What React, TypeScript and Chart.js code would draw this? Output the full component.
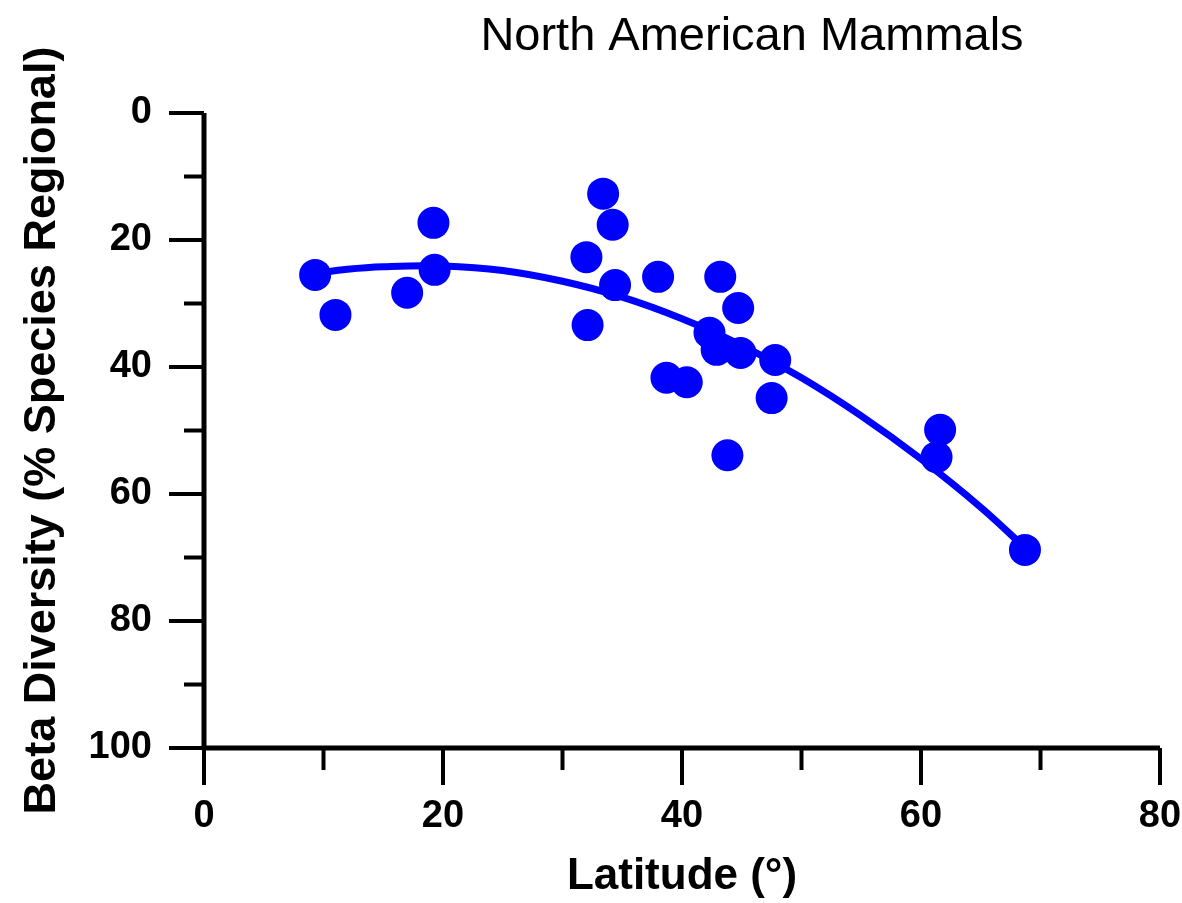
import React, { useEffect, useRef } from "react";
import { Chart, registerables } from "chart.js";

Chart.register(...registerables);

const chartTitle = "North American Mammals";
const xAxisTitle = "Latitude (°)";
const yAxisTitle = "Beta Diversity (% Species Regional)";

const latitude = [9.3, 11.0, 17.0, 19.2, 19.3, 32.0, 32.1, 33.4, 34.2, 34.4, 38.0, 38.7, 40.4, 42.3, 42.9, 43.2, 43.8, 44.7, 44.9, 47.5, 47.8, 61.3, 61.6, 68.7];
const betaDiversity = [25.5, 31.8, 28.3, 17.3, 24.7, 22.7, 33.4, 12.7, 17.6, 27.1, 25.8, 41.7, 42.4, 34.6, 37.3, 25.8, 53.9, 30.7, 37.8, 44.9, 38.9, 54.2, 49.9, 68.8];

const fitLatitude = [9.3, 12, 15, 20, 25, 30, 35, 40, 45, 50, 55, 60, 65, 69];
const fitBeta = [25.3, 24.6, 24.2, 24.1, 24.8, 26.5, 29.0, 32.4, 36.6, 41.7, 47.7, 54.5, 62.1, 69.0];

const xTickValues = [0, 10, 20, 30, 40, 50, 60, 70, 80];
const yTickValues = [0, 10, 20, 30, 40, 50, 60, 70, 80, 90, 100];

const BLUE = "#0000FF";
const SANS = "'Liberation Sans', Arial, sans-serif";

const axesPlugin = {
  id: "customAxes",
  afterDraw(chart: any) {
    const { ctx, chartArea, scales } = chart;
    const xs = scales.x;
    const ys = scales.y;
    ctx.save();
    ctx.strokeStyle = "#000";
    ctx.lineCap = "butt";
    ctx.lineWidth = 5;
    ctx.beginPath();
    ctx.moveTo(chartArea.left, chartArea.top);
    ctx.lineTo(chartArea.left, chartArea.bottom);
    ctx.moveTo(chartArea.left, chartArea.bottom);
    ctx.lineTo(chartArea.right, chartArea.bottom);
    ctx.stroke();
    ctx.lineWidth = 4;
    ctx.beginPath();
    xTickValues.forEach((v) => {
      const px = xs.getPixelForValue(v);
      const len = v % 20 === 0 ? 37 : 22;
      ctx.moveTo(px, chartArea.bottom);
      ctx.lineTo(px, chartArea.bottom + len);
    });
    yTickValues.forEach((v) => {
      const py = ys.getPixelForValue(v);
      const len = v % 20 === 0 ? 35 : 20;
      ctx.moveTo(chartArea.left - len, py);
      ctx.lineTo(chartArea.left, py);
    });
    ctx.stroke();
    ctx.fillStyle = "#000";
    ctx.font = "47px " + SANS;
    ctx.textAlign = "center";
    ctx.textBaseline = "alphabetic";
    ctx.fillText(chartTitle, 752, 50);
    ctx.restore();
  },
};

export default function App() {
  const canvasRef = useRef<HTMLCanvasElement | null>(null);

  useEffect(() => {
    const canvas = canvasRef.current;
    if (!canvas) return;
    const chart = new Chart(canvas, {
      type: "scatter",
      data: {
        datasets: [
          {
            label: "fit",
            data: fitLatitude.map((x, i) => ({ x, y: fitBeta[i] })),
            showLine: true,
            borderColor: BLUE,
            borderWidth: 7,
            pointRadius: 0,
            tension: 0.4,
            fill: false,
          },
          {
            label: "sites",
            data: latitude.map((x, i) => ({ x, y: betaDiversity[i] })),
            backgroundColor: BLUE,
            borderColor: BLUE,
            borderWidth: 0,
            pointRadius: 16,
            pointHoverRadius: 16,
          },
        ],
      },
      options: {
        animation: false,
        responsive: true,
        maintainAspectRatio: false,
        events: [],
        layout: { padding: { top: 113, right: 22, bottom: 0, left: 0 } },
        plugins: {
          legend: { display: false },
          tooltip: { enabled: false },
          title: { display: false },
        },
        scales: {
          x: {
            type: "linear",
            min: 0,
            max: 80,
            grid: { display: false, drawTicks: false },
            border: { display: false },
            afterFit: (scale: any) => {
              scale.height = 155;
              scale.paddingLeft = 0;
              scale.paddingRight = 0;
            },
            ticks: {
              stepSize: 10,
              autoSkip: false,
              maxRotation: 0,
              padding: 46,
              color: "#000",
              font: { family: SANS, size: 38, weight: "bold" },
              callback: (v: any) => (Number(v) % 20 === 0 ? String(v) : ""),
            },
            title: {
              display: true,
              text: xAxisTitle,
              color: "#000",
              font: { family: SANS, size: 44, weight: "bold" },
              padding: { top: 0, bottom: 0 },
            },
          },
          y: {
            type: "linear",
            reverse: true,
            min: 0,
            max: 100,
            grid: { display: false, drawTicks: false },
            border: { display: false },
            afterFit: (scale: any) => {
              scale.width = 204;
              scale.paddingTop = 0;
              scale.paddingBottom = 0;
            },
            ticks: {
              stepSize: 10,
              autoSkip: false,
              padding: 52,
              color: "#000",
              font: { family: SANS, size: 38, weight: "bold" },
              callback: (v: any) => (Number(v) % 20 === 0 ? String(v) : ""),
            },
            title: {
              display: true,
              text: yAxisTitle,
              color: "#000",
              font: { family: SANS, size: 45, weight: "bold" },
              padding: { top: 16, bottom: 4 },
            },
          },
        },
      },
      plugins: [axesPlugin],
    });
    return () => chart.destroy();
  }, []);

  return (
    <div style={{ position: "absolute", left: 0, top: 0, width: 1182, height: 903, background: "#fff" }}>
      <canvas ref={canvasRef} />
    </div>
  );
}
